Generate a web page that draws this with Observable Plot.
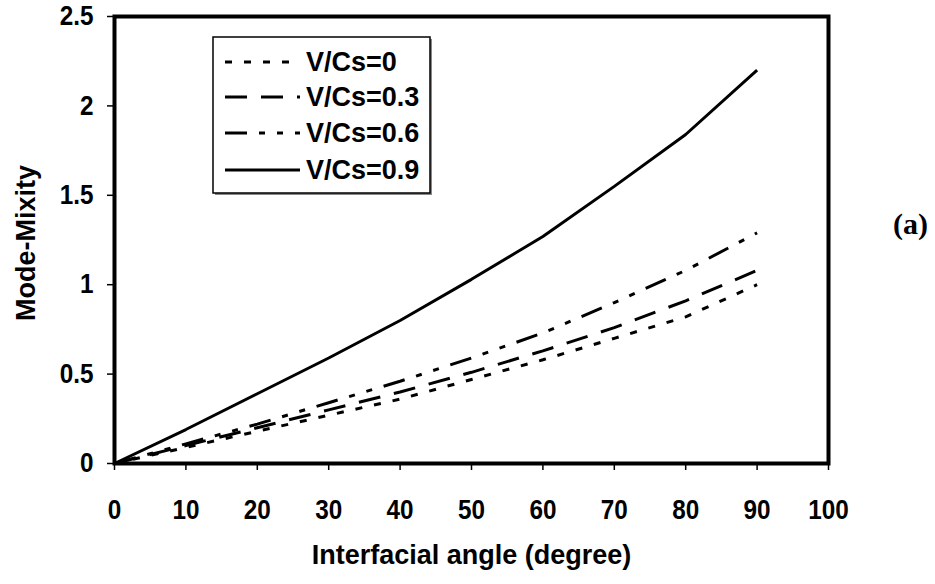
<!DOCTYPE html>
<html>
<head>
<meta charset="utf-8">
<script src="https://cdn.jsdelivr.net/npm/d3@7"></script>
<script src="https://cdn.jsdelivr.net/npm/@observablehq/plot@0.6"></script>
<style>
  html, body { margin: 0; padding: 0; background: #fff; }
  #chart { width: 935px; height: 584px; }
</style>
</head>
<body>
<div id="chart"></div>
<script>
// Data
const angle = [0, 10, 20, 30, 40, 50, 60, 70, 80, 90];
const vcs0  = [0, 0.09, 0.18, 0.27, 0.36, 0.47, 0.58, 0.70, 0.82, 1.00];
const vcs03 = [0, 0.10, 0.20, 0.30, 0.40, 0.51, 0.63, 0.76, 0.91, 1.08];
const vcs06 = [0, 0.11, 0.22, 0.34, 0.46, 0.59, 0.73, 0.90, 1.08, 1.29];
const vcs09 = [0, 0.19, 0.39, 0.59, 0.80, 1.03, 1.27, 1.55, 1.84, 2.20];
const seriesNames = ["V/Cs=0", "V/Cs=0.3", "V/Cs=0.6", "V/Cs=0.9"];
const xTicks = [0, 10, 20, 30, 40, 50, 60, 70, 80, 90, 100];
const yTicks = [0, 0.5, 1, 1.5, 2, 2.5];
const xTitle = "Interfacial angle (degree)";
const yTitle = "Mode-Mixity";
const panelLabel = "(a)";

const dashes = ["7,12", "22,14", "22,12,6,12,6,12", null];
const seriesValues = [vcs0, vcs03, vcs06, vcs09];

const rows = [];
seriesNames.forEach((name, i) => {
  angle.forEach((a, j) => rows.push({series: name, angle: a, value: seriesValues[i][j]}));
});

const lineMarks = seriesNames.map((name, i) =>
  Plot.line(rows.filter(d => d.series === name), {
    x: "angle", y: "value", stroke: "black", strokeWidth: 3,
    strokeDasharray: dashes[i] || undefined, strokeLinecap: "butt", strokeLinejoin: "miter"
  })
);

const font = "'Liberation Sans', Arial, Helvetica, sans-serif";

const chart = Plot.plot({
  width: 935, height: 584,
  marginLeft: 114, marginRight: 107, marginTop: 16, marginBottom: 121,
  style: {fontFamily: font, fontWeight: "bold", color: "black", background: "white", overflow: "visible"},
  x: {domain: [0, 100]},
  y: {domain: [0, 2.5]},
  marks: [
    ...lineMarks,
    Plot.frame({stroke: "black", strokeWidth: 4}),
    Plot.axisX({ticks: xTicks, tickSize: 7, tickPadding: 29, fontSize: 27, label: null, strokeWidth: 1.5}),
    Plot.axisY({ticks: yTicks, tickFormat: d => String(d), tickSize: 7, tickPadding: 14, fontSize: 27, label: null, strokeWidth: 1.5}),
    Plot.text([xTitle], {frameAnchor: "bottom", textAnchor: "middle", dy: 100, fontSize: 27, fontWeight: "bold", fill: "black"}),
    Plot.text([yTitle], {frameAnchor: "left", textAnchor: "middle", dx: -88, dy: 3, rotate: -90, fontSize: 27, fontWeight: "bold", fill: "black"}),
    Plot.text([panelLabel], {frameAnchor: "right", textAnchor: "middle", dx: 82, dy: -16, fontSize: 30, fontWeight: "bold", fill: "black", fontFamily: "'Liberation Serif', 'Times New Roman', serif"})
  ]
});

const svg = d3.select(chart);

// Condense the tick labels slightly (reference uses a narrower bold face)
svg.selectAll('g[aria-label="x-axis tick label"] text, g[aria-label="y-axis tick label"] text').each(function() {
  const t = d3.select(this);
  const tr = t.attr("transform") || "";
  t.attr("transform", tr + " scale(0.9,1)");
});

// Legend box drawn inside the SVG
const lg = svg.append("g").attr("class", "legend");
const boxX = 213, boxY = 37, boxW = 217, boxH = 156;
lg.append("rect").attr("x", boxX + 2).attr("y", boxY + 2).attr("width", boxW).attr("height", boxH)
  .attr("fill", "#888");
lg.append("rect").attr("x", boxX).attr("y", boxY).attr("width", boxW).attr("height", boxH)
  .attr("fill", "white").attr("stroke", "black").attr("stroke-width", 1.5);
const rowY = [62, 97, 133, 170];
seriesNames.forEach((name, i) => {
  lg.append("line").attr("x1", 225).attr("x2", 300).attr("y1", rowY[i]).attr("y2", rowY[i])
    .attr("stroke", "black").attr("stroke-width", 3)
    .attr("stroke-dasharray", dashes[i] || null);
  lg.append("text").attr("x", 306).attr("y", rowY[i]).attr("dy", "0.35em")
    .attr("text-anchor", "start")
    .attr("font-size", 27).attr("font-weight", "bold").attr("font-family", font)
    .attr("fill", "black").text(name);
});

document.getElementById("chart").appendChild(chart);
</script>
</body>
</html>
